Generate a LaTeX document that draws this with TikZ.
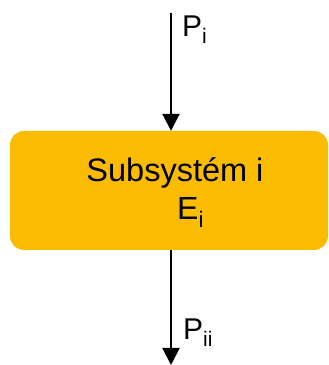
\documentclass[tikz,border=0pt]{standalone}
\usepackage{fontspec}
\setmainfont{Liberation Sans}
\usetikzlibrary{arrows.meta}
\definecolor{boxfill}{RGB}{251,187,0}
\begin{document}
\begin{tikzpicture}[x=1pt,y=1pt,
  flow/.style={line width=2pt,-{Triangle[length=17pt,width=17pt]}},
  sysbox/.style={fill=boxfill,rounded corners=14pt,minimum width=318pt,minimum height=119pt,inner sep=0pt},
  lbl/.style={inner sep=0pt,anchor=base west,font=\fontsize{30}{30}\selectfont}]
\useasboundingbox (0,0) rectangle (329,365);
\node[sysbox] (sys) at (169,174.5) {};
\node[inner sep=0pt,anchor=base,font=\fontsize{32.5}{32.5}\selectfont] (name) at (175,183) {Subsystém i};
\node[lbl,font=\fontsize{32}{32}\selectfont] (energy) at (177,145) {E\textsubscript{i}};
\coordinate (src) at (171,352);
\coordinate (snk) at (171,0);
\draw[flow] (src) -- (sys.north -| src);
\draw[flow] (sys.south -| snk) -- (snk);
\node[lbl] (pin) at (182,328) {P\textsubscript{i}};
\node[lbl] (pout) at (183,25) {P\textsubscript{ii}};
\end{tikzpicture}
\end{document}
